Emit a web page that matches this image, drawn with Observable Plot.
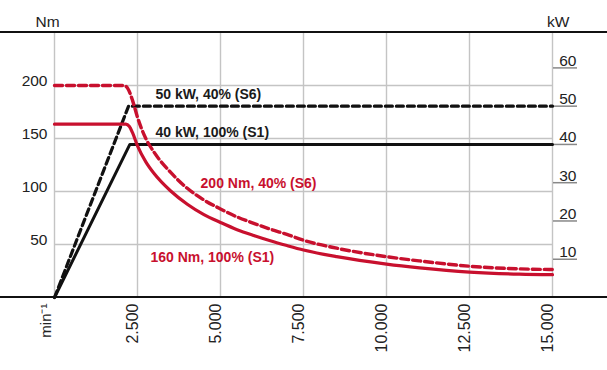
<!DOCTYPE html>
<html><head><meta charset="utf-8">
<script src="https://cdn.jsdelivr.net/npm/d3@7"></script>
<script src="https://cdn.jsdelivr.net/npm/@observablehq/plot@0.6"></script>
<style>html,body{margin:0;padding:0;background:#fff}</style>
</head><body><div id="chart"></div>
<script>
// Tick values
const rpmTicks = [2500, 5000, 7500, 10000, 12500, 15000];
const nmTicks = [50, 100, 150, 200];
const kwTicks = [10, 20, 30, 40, 50, 60];

// Torque curves [rpm, Nm]
const torqueS1 = [[0,163.5],[2150,163.5],[2250,161.5],[2350,155.5],[2500,143],[2750,128],[3000,117],[3500,100.5],[4000,88],[4500,78.2],[5000,70.8],[5500,64],[6000,58.5],[6500,53.5],[7000,49],[7500,44.8],[8500,38.5],[10000,31.5],[11000,28],[12500,24],[14000,22],[15000,21.5]];
const torqueS6 = [[0,200],[2100,200],[2200,197.5],[2350,186],[2500,170],[2750,150],[3000,137],[3500,118],[4000,103],[4500,92],[5000,83.5],[5500,76],[6000,70],[6500,64.5],[7000,59.5],[7500,54],[8500,46.5],[10000,38.5],[11000,34.5],[12500,29.5],[14000,27],[15000,26.4]];

// Power curves [rpm, kW]
const powerS1 = [[0,0],[2270,40],[15000,40]];
const powerS6 = [[0,0],[2230,50],[15000,50]];

// Curve labels
const labelText = ["50 kW, 40% (S6)", "40 kW, 100% (S1)", "200 Nm, 40% (S6)", "160 Nm, 100% (S1)"];
const labelRpm = [3040, 3040, 4400, 2890];
const labelNm = [191.5, 156, 108, 37.7];
const labelColor = ["#1a1a1a", "#1a1a1a", "#c8102e", "#c8102e"];

const KW = 3.61; // Nm-axis units per kW on the right axis
const RED = "#c8102e";
const BLACK = "#111";

const de = d3.formatLocale({decimal: ",", thousands: ".", grouping: [3]}).format(",");

function fullWidthRule(value) {
  return function(...args) {
    const scales = args.find(a => a && typeof a.y === "function");
    const dims = args.find(a => a && a.width !== undefined && a.marginLeft !== undefined);
    const y = scales.y(value);
    return d3.create("svg:line")
      .attr("x1", 0).attr("x2", dims.width)
      .attr("y1", y).attr("y2", y)
      .attr("stroke", BLACK).attr("stroke-width", 1.8).node();
  };
}

const toObj = (arr, f = 1) => arr.map(([x, y]) => ({x, y: y * f}));
const kwPos = kwTicks.map(k => k * KW);

const chart = Plot.plot({
  width: 607,
  height: 370,
  marginLeft: 54,
  marginRight: 55,
  marginTop: 32,
  marginBottom: 73,
  style: {fontFamily: "'Liberation Sans', Arial, sans-serif", fontSize: "15px", color: "#222", background: "#fff"},
  x: {domain: [0, 15000], axis: null},
  y: {domain: [0, 250], axis: null},
  marks: [
    Plot.gridX([0, ...rpmTicks], {stroke: "#c4c4c4", strokeOpacity: 1, strokeWidth: 1.4}),
    Plot.gridY(nmTicks, {stroke: "#c4c4c4", strokeOpacity: 1, strokeWidth: 1.4}),
    fullWidthRule(250),
    fullWidthRule(0),
    Plot.axisY(nmTicks, {anchor: "left", tickSize: 0, tickPadding: 7, dy: -4, label: null, fill: "#222", fontSize: 15.5}),
    Plot.axisY(kwPos, {anchor: "right", tickSize: 24, tickFormat: () => "", stroke: "#888", strokeWidth: 1.5, label: null}),
    Plot.axisY(kwPos, {anchor: "right", tickSize: 0, tickPadding: 24, textAnchor: "end", dy: -7, tickFormat: d => Math.round(d / KW), label: null, fill: "#222", fontSize: 15.5}),
    Plot.axisX(rpmTicks, {anchor: "bottom", tickSize: 0, tickPadding: 6, tickRotate: -90, textAnchor: "end", lineAnchor: "middle", dx: -5, tickFormat: de, label: null, fill: "#222", fontSize: 16}),
    Plot.text([0], {x: d => d, frameAnchor: "bottom", rotate: -90, textAnchor: "end", lineAnchor: "middle", dy: 6, dx: -8, text: () => "min⁻¹", fill: "#222", fontSize: 15}),
    Plot.text(["Nm"], {frameAnchor: "top-left", lineAnchor: "middle", dx: -19, dy: -10, text: d => d, fill: "#222", fontSize: 15.5}),
    Plot.text(["kW"], {frameAnchor: "top-right", lineAnchor: "middle", dx: 17, dy: -10, text: d => d, fill: "#222", fontSize: 15.5}),
    Plot.line(toObj(powerS1, KW), {x: "x", y: "y", stroke: BLACK, strokeWidth: 3}),
    Plot.line(toObj(powerS6, KW), {x: "x", y: "y", stroke: BLACK, strokeWidth: 3.2, strokeDasharray: "7,4"}),
    Plot.line(toObj(torqueS1), {x: "x", y: "y", stroke: RED, strokeWidth: 3.2, curve: "monotone-x"}),
    Plot.line(toObj(torqueS6), {x: "x", y: "y", stroke: RED, strokeWidth: 3.4, strokeDasharray: "8,4", curve: "monotone-x"}),
    Plot.text(labelText, {x: (d, i) => labelRpm[i], y: (d, i) => labelNm[i], text: d => d, textAnchor: "start", fill: (d, i) => labelColor[i], fontWeight: "bold", fontSize: 14})
  ]
});
document.getElementById("chart").appendChild(chart);
</script>
</body></html>
